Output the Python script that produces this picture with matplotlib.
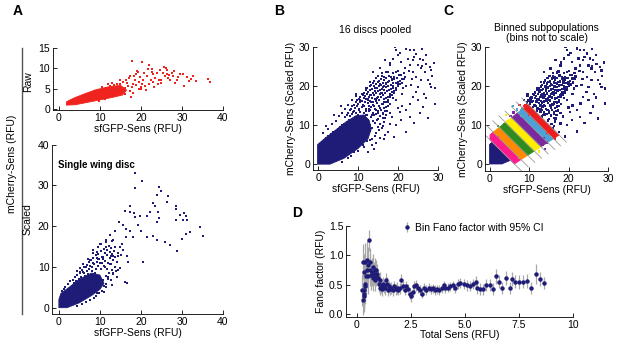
import matplotlib
matplotlib.use("Agg")
import matplotlib.pyplot as plt
from matplotlib.lines import Line2D
from matplotlib.patches import Polygon
import numpy as np

plt.rcParams['font.family'] = ['Liberation Sans', 'DejaVu Sans']
plt.rcParams['font.size'] = 7.5

W, H = 617, 344
NAVY = '#1f1c78'
RED = '#f0241e'

# ---------------- Panel A (raw) data ----------------
raw_core_x = [1.8, 4.0, 7.0, 10.0, 13.0, 15.5, 16.5, 15.0, 12.0, 9.0, 6.0, 4.0, 2.5, 1.8]
raw_core_y = [0.9, 1.0, 1.6, 2.2, 2.8, 3.4, 4.6, 5.8, 5.4, 4.7, 3.6, 2.8, 2.1, 1.7]
raw_x = [17.9, 20.2, 21.9, 22.6, 25.6, 26.3, 24.6, 30.2, 31.1, 32.2, 32.8, 33.5, 36.4, 36.8,
         30.6, 28.3, 27.1, 25.9, 21.4, 18.9, 18.5, 17.7, 18.1, 17.6, 16.5, 15.5, 14.2, 13.5,
         16.0, 17.0, 19.5, 20.5, 22.0, 23.5, 24.0, 26.8, 27.5, 29.0, 23.0, 21.0, 19.8, 15.0,
         14.0, 12.5, 11.5, 13.0, 16.2, 19.2, 22.8, 25.0, 28.8, 31.8, 20.0, 24.2, 26.0, 18.4,
         10.5, 12.0, 14.8, 8.5, 9.8, 11.2,
         14.5, 15.2, 16.0, 16.8, 17.3, 18.8, 19.4, 20.3, 21.2, 22.4, 23.2, 24.5, 25.3, 26.6,
         27.8, 29.6, 28.1, 19.0, 20.8, 21.8, 17.2, 16.3, 15.0, 13.8, 12.8, 18.0, 19.9, 22.9,
         24.8, 26.3]
raw_y = [11.8, 11.5, 10.9, 9.1, 10.2, 9.6, 9.6, 8.6, 7.9, 7.3, 8.1, 6.8, 7.3, 6.7,
         5.6, 6.3, 7.1, 8.2, 8.0, 8.6, 7.1, 5.3, 3.9, 2.9, 6.3, 6.6, 6.0, 5.8,
         5.2, 7.5, 6.5, 7.0, 6.0, 7.5, 8.8, 8.3, 8.9, 7.8, 6.6, 5.6, 7.8, 7.2,
         4.9, 5.6, 5.2, 6.3, 4.4, 9.0, 9.8, 7.2, 7.0, 6.8, 5.0, 6.0, 10.0, 8.1,
         5.3, 6.0, 4.6, 4.4, 1.9, 2.3,
         4.2, 5.1, 3.6, 5.6, 4.5, 5.8, 4.8, 6.1, 4.6, 7.1, 5.4, 7.0, 8.9, 7.6,
         8.2, 8.5, 9.4, 9.4, 8.9, 9.8, 8.0, 7.1, 6.2, 5.1, 4.8, 6.0, 5.4, 8.5,
         6.4, 8.6]

# ---------------- Panel A (scaled) data ----------------
sc_core_x = [0.0, 2.0, 5.0, 8.0, 10.0, 11.0, 10.0, 8.0, 5.0, 2.5, 0.5, 0.0]
sc_core_y = [0.0, 0.0, 1.2, 3.0, 4.5, 6.0, 8.0, 8.5, 7.0, 5.0, 3.5, 2.0]
sc_x = [18.5, 20.3, 18.5, 24.4, 25.0, 23.8, 26.7, 26.3, 23.0, 23.5, 28.5, 28.5, 30.5, 31.1,
        29.6, 30.2, 31.2, 28.5, 17.3, 18.3, 18.5, 17.3, 16.1, 19.8, 22.2, 24.1, 24.4, 21.4,
        24.0, 16.3, 15.7, 17.3, 18.1, 16.4, 19.3, 20.1, 21.4, 23.0, 23.8, 25.9, 27.1, 28.9,
        29.9, 31.1, 31.9, 34.4, 35.2, 14.7, 13.7, 12.4, 11.5, 13.3, 10.0, 11.6, 13.7, 15.3,
        15.7, 16.5, 14.5, 12.6, 10.8, 9.2, 8.4, 9.6, 7.6, 16.9, 20.6, 16.1, 16.5, 9.2,
        11.6, 12.8, 9.2, 6.7, 5.9, 11.2, 12.4, 13.7, 14.5, 13.3, 12.0, 10.8, 10.0, 5.1, 3.9,
        0.8, 1.5, 2.2, 1.2, 2.8, 3.4, 3.9, 4.5, 5.1, 5.6, 6.2, 6.8, 7.3, 7.9, 8.4, 9.0, 9.6,
        10.2, 10.9, 11.5, 12.2, 12.8, 13.4, 13.1, 12.5, 11.8, 11.2, 10.5, 9.8, 9.2, 8.6, 8.0,
        7.4, 6.8, 6.1, 5.4, 4.8, 4.2, 3.6, 10.6, 11.3, 12.0, 12.7, 13.3, 13.8, 13.6, 12.9,
        12.3, 11.7, 11.0, 10.3, 9.6, 9.0, 11.4, 12.0, 11.6, 10.9, 10.4, 12.6, 13.2, 9.8, 9.1,
        8.5, 7.5, 6.6, 5.6, 4.5, 10.5, 11.0, 8.0, 8.8, 7.2, 6.4, 12.4, 13.0, 10.0, 9.4, 8.2,
        7.6, 14.2, 14.5, 13.9, 11.8, 10.7, 6.0, 5.2, 4.4, 7.0, 8.3, 9.5, 10.2, 11.4, 12.9,
        14.8, 15.2, 14.9, 14.1, 13.0]
sc_y = [33.0, 31.1, 29.3, 29.7, 28.7, 27.7, 27.5, 25.9, 25.6, 25.0, 24.9, 24.1, 23.3, 22.4,
        22.8, 21.5, 21.5, 21.5, 25.0, 23.2, 22.2, 23.4, 23.7, 22.6, 23.4, 23.4, 22.0, 22.4,
        21.0, 19.3, 20.2, 18.9, 17.3, 17.3, 20.2, 18.9, 17.3, 17.7, 16.5, 16.1, 15.3, 13.9,
        16.9, 18.1, 18.5, 19.9, 17.7, 21.0, 18.9, 17.9, 16.7, 16.5, 15.7, 14.9, 14.9, 15.7,
        14.1, 12.8, 13.3, 12.8, 12.4, 13.7, 14.1, 12.0, 11.6, 11.2, 11.2, 6.3, 6.1, 3.5,
        5.1, 6.7, 4.7, 10.0, 8.8, 10.0, 10.8, 10.0, 9.2, 8.4, 7.6, 6.7, 5.9, 8.8, 7.6,
        4.2, 5.0, 5.8, 4.6, 6.5, 6.9, 7.6, 8.0, 8.6, 9.3, 9.9, 10.4, 11.1, 11.6, 12.3, 12.9, 13.2,
        13.8, 14.3, 14.9, 15.2, 14.6, 13.9, 12.8, 12.2, 12.9, 13.4, 12.5, 11.9, 11.2, 10.6, 10.1,
        9.5, 9.0, 8.4, 7.6, 7.0, 6.5, 6.0, 10.9, 11.5, 11.0, 10.6, 11.7, 12.4, 10.0, 9.2,
        8.5, 9.6, 10.2, 9.4, 10.2, 9.6, 7.8, 7.0, 5.9, 5.2, 6.6, 6.8, 8.2, 3.6, 2.9,
        2.4, 1.8, 1.3, 0.8, 0.4, 4.2, 3.9, 9.1, 8.4, 8.3, 7.7, 13.6, 13.2, 11.0, 12.2, 11.0,
        10.2, 11.3, 12.8, 9.0, 14.2, 11.9, 10.6, 9.8, 9.0, 12.0, 13.5, 14.8, 15.6, 16.2, 16.4,
        15.0, 13.0, 9.8, 7.5, 5.5]

# ---------------- Panel B / C data (16 discs pooled) ----------------
pool_core_x = [-0.1, 3.0, 6.5, 10.0, 12.5, 13.3, 12.8, 11.5, 9.5, 7.0, 4.0, 1.5, -0.1]
pool_core_y = [0.0, 0.0, 1.5, 4.0, 6.5, 9.0, 11.2, 12.6, 12.4, 10.8, 8.4, 6.4, 5.0]
pool_x = [19.2, 21.5, 22.1, 22.9, 23.9, 19.6, 20.0, 24.6, 25.4, 26.2, 27.1, 27.9, 28.3, 29.2,
          29.2, 27.5, 26.2, 25.0, 23.7, 22.1, 22.9, 20.4, 19.6, 17.9, 17.5, 15.8, 14.6, 17.1,
          18.3, 19.6, 20.8, 21.7, 22.9, 23.7, 24.6, 25.8, 26.7, 27.5, 28.3, 25.0, 23.3, 21.3,
          20.0, 18.8, 16.3, 15.8, 14.2, 12.9, 12.5, 13.3, 15.0, 16.7, 17.9, 19.6, 20.8, 22.1,
          17.9, 16.3, 13.8, 15.4, 17.9, 16.7, 18.8, 20.8, 22.5, 23.7, 25.0, 25.8,
          13.5, 14.8, 16.2, 17.5, 18.5, 12.0, 11.0, 10.5, 13.0, 14.5, 16.0, 21.0, 23.0, 24.5,
          26.5, 27.0, 28.5, 29.0, 26.0, 24.0, 19.0, 20.0, 18.5, 22.0, 17.0, 15.5, 13.8, 12.8,
          9.5, 16.5, 19.0, 24.0, 25.5, 21.0, 23.5, 26.0, 28.0, 27.0, 20.5, 18.0,
          0.4, 0.9, 1.5, 2.1, 2.6, 3.2, 14.2, 13.6, 3.8, 4.4, 13.0, 14.6, 15.3, 4.9, 5.6, 6.0,
          13.5, 14.9, 16.0, 6.5, 7.2, 13.0, 14.2, 15.6, 16.6, 7.8, 8.4, 12.6, 13.7, 15.0, 16.2,
          6.8, 8.0, 9.2, 10.0, 11.3, 12.2, 13.2, 14.4, 15.5, 16.9, 7.5, 8.7, 9.6, 10.6, 11.6,
          12.8, 13.8, 15.0, 16.2, 17.3, 8.2, 9.3, 10.2, 11.0, 12.1, 13.3, 14.2, 15.5, 16.6,
          17.6, 9.0, 10.1, 11.3, 12.4, 13.7, 14.8, 15.9, 17.0, 18.1, 9.8, 10.9, 11.9, 13.0,
          14.2, 15.3, 16.5, 17.6, 18.8, 10.6, 11.7, 12.8, 14.0, 15.1, 16.2, 17.4, 18.5, 11.5,
          12.6, 13.8, 15.0, 16.1, 17.2, 18.4, 19.6, 12.3, 13.5, 14.7, 15.9, 17.1, 18.3, 19.5,
          13.2, 14.5, 15.7, 16.9, 18.2, 19.4, 20.6, 14.0, 15.3, 16.6, 17.8, 19.1, 20.4, 21.6,
          15.1, 16.4, 17.7, 19.0, 20.3, 21.7, 16.0, 17.4, 18.8, 20.1, 21.5, 22.8, 10.5, 11.2,
          12.3, 13.0, 9.0, 10.0, 7.5, 8.3, 6.0, 11.6,
          7.3, 8.6, 9.9, 11.9, 14.0, 16.3, 8.0, 9.1, 10.3, 11.9, 13.1, 14.6, 16.8,
          8.6, 9.7, 11.6, 12.8, 14.0, 15.2, 17.1, 9.4, 10.6, 11.8, 13.2, 14.4, 16.4, 17.5,
          10.3, 11.4, 12.4, 13.6, 14.7, 15.8, 17.0, 18.1, 11.2, 12.2, 13.3, 14.5, 15.6, 16.8,
          18.0, 19.1, 12.0, 13.1, 14.3, 15.5, 16.6, 17.8, 19.0, 12.9, 14.1, 15.3, 16.4, 17.6,
          18.8, 20.1, 13.8, 14.9, 16.2, 17.4, 18.7, 19.9, 21.1, 14.6, 15.8, 17.1, 18.4, 19.7,
          21.0, 2.5, 3.5, 4.5, 5.2, 6.0, 6.8, 7.5, 8.6, 9.5, 1.2, 2.0, 4.0, 5.8, 13.5, 14.5,
          15.5, 16.8, 12.5, 14.0]
pool_y = [30.0, 30.2, 29.6, 29.3, 29.2, 29.2, 27.9, 28.3, 27.0, 26.6, 25.7, 24.9, 24.0, 19.4,
          15.5, 11.7, 14.7, 16.4, 17.2, 13.8, 12.1, 13.4, 16.4, 17.6, 15.9, 13.8, 16.4, 20.6,
          22.3, 23.6, 22.8, 24.5, 25.3, 23.6, 22.3, 21.5, 23.6, 21.5, 19.8, 19.8, 20.2, 19.4,
          20.6, 19.4, 19.8, 18.1, 19.4, 17.6, 16.4, 14.7, 13.0, 11.7, 10.4, 10.0, 11.3, 8.3,
          13.0, 15.5, 23.6, 24.5, 25.3, 26.6, 27.0, 26.2, 27.0, 26.6, 25.3, 24.5,
          12.5, 11.2, 9.8, 8.2, 12.2, 19.5, 18.0, 16.5, 21.0, 22.0, 22.5, 15.0, 15.5, 18.5,
          18.0, 17.0, 22.5, 26.0, 29.5, 27.5, 18.5, 14.5, 21.5, 20.0, 23.5, 20.5, 16.0, 14.0,
          17.5, 6.5, 7.0, 10.5, 13.0, 18.0, 21.8, 25.2, 20.5, 28.0, 28.5, 26.0,
          5.2, 5.6, 6.3, 6.8, 7.3, 7.6, 7.2, 6.5, 8.2, 8.6, 8.4, 8.0, 8.8, 9.1, 9.4, 9.9,
          9.3, 9.6, 9.2, 10.2, 10.8, 10.1, 10.5, 10.3, 10.9, 11.3, 11.6, 11.4, 11.0, 11.5, 11.8,
          12.0, 12.4, 12.1, 12.3, 12.0, 12.6, 12.2, 12.8, 12.4, 12.5, 13.1, 13.3, 13.0, 13.4, 13.1,
          13.5, 13.2, 13.6, 13.2, 13.7, 14.2, 14.4, 14.0, 14.6, 14.2, 14.6, 14.1, 14.5, 14.3,
          14.8, 15.2, 15.5, 15.1, 15.6, 15.2, 15.7, 15.3, 15.8, 15.4, 16.3, 16.1, 16.6, 16.2,
          16.7, 16.3, 16.8, 16.4, 16.9, 17.1, 17.5, 17.2, 17.6, 17.3, 17.7, 17.2, 17.8, 18.3,
          18.6, 18.2, 18.7, 18.3, 18.8, 18.4, 18.9, 19.4, 19.2, 19.6, 19.3, 19.7, 19.2, 19.6,
          20.3, 20.6, 20.2, 20.7, 20.3, 20.8, 20.4, 21.4, 21.2, 21.6, 21.2, 21.7, 21.3, 21.8,
          22.5, 22.2, 22.7, 22.3, 22.8, 22.4, 23.4, 23.7, 23.3, 23.8, 23.3, 23.9, 5.5, 5.0,
          5.8, 6.1, 3.0, 3.4, 1.5, 2.1, 0.6, 4.3,
          12.6, 12.8, 12.7, 12.5, 12.6, 12.9, 13.8, 13.6, 13.9, 13.7, 13.9, 13.8, 13.6,
          14.8, 14.9, 14.8, 15.0, 14.8, 15.0, 14.7, 15.8, 15.9, 16.0, 15.8, 16.1, 15.9, 16.1,
          16.8, 16.9, 16.7, 17.0, 16.9, 17.1, 16.9, 17.2, 17.8, 18.0, 17.8, 18.1, 17.9, 18.2,
          17.9, 18.3, 18.9, 19.0, 18.8, 19.1, 18.9, 19.0, 18.8, 19.9, 19.9, 20.0, 19.9, 20.1,
          19.9, 20.0, 20.9, 21.0, 20.9, 21.0, 20.9, 21.1, 20.9, 22.0, 21.9, 22.1, 21.9, 22.1,
          21.9, 9.0, 10.2, 11.0, 12.3, 13.2, 14.0, 15.2, 16.4, 18.0, 8.0, 9.8, 12.5, 14.8, 4.8,
          5.5, 6.8, 7.5, 3.2, 3.8]

# bins along x + y (panel C)
bin_edges = [6.2, 9.0, 11.8, 14.6, 17.4, 20.2, 22.6, 25.0]
bin_colors = ['#ff1b8d', '#ff8a00', '#2e8b1e', '#ffee00', '#7a2a9e', '#4aa3d6', '#ee1c1c']
ribbon_upper = (0.8, 7.5)    # slope, intercept of upper cloud edge
ribbon_lower = (0.65, -4.0)  # slope, intercept of lower cloud edge

# ---------------- Panel D data ----------------
fano_x = [0.26, 0.28, 0.29, 0.31, 0.32, 0.34, 0.35, 0.37, 0.39, 0.40, 0.43, 0.45, 0.48, 0.51,
          0.54, 0.57, 0.60, 0.63, 0.66, 0.69, 0.73, 0.76, 0.79, 0.82, 0.85, 0.88, 0.91, 0.94,
          0.97, 1.02, 1.05, 1.08, 1.11, 1.16, 1.20, 1.25, 1.30, 1.34, 1.39, 1.44, 1.48, 1.54,
          1.60, 1.67, 1.73, 1.79, 1.85, 1.91, 1.99, 2.05, 2.13, 2.21, 2.28, 2.35, 2.44, 2.50,
          2.58, 2.65, 2.75, 2.84, 2.93, 3.02, 3.13, 3.21, 3.32, 3.43, 3.52, 3.60, 3.70, 3.81,
          3.92, 4.01, 4.10, 4.21, 4.32, 4.44, 4.55, 4.66, 4.78, 4.94, 5.09, 5.22, 5.37, 5.51,
          5.56, 5.71, 5.86, 5.99, 6.14, 6.30, 6.45, 6.59, 6.73, 6.91, 7.07, 7.18, 7.33, 7.52,
          7.69, 7.87, 8.07, 8.27, 8.46, 8.64]
fano_y = [0.41, 0.24, 0.89, 0.72, 0.30, 0.35, 0.41, 0.47, 0.52, 0.89, 0.64, 0.75, 0.92, 0.64,
          0.84, 1.26, 0.75, 0.88, 0.66, 0.72, 0.80, 0.61, 0.69, 0.75, 0.58, 0.65, 0.75, 0.69,
          0.62, 0.52, 0.45, 0.58, 0.48, 0.42, 0.51, 0.47, 0.44, 0.58, 0.52, 0.41, 0.47, 0.43,
          0.45, 0.41, 0.47, 0.42, 0.45, 0.41, 0.44, 0.58, 0.48, 0.41, 0.47, 0.42, 0.35, 0.30,
          0.38, 0.47, 0.49, 0.44, 0.41, 0.35, 0.45, 0.41, 0.45, 0.42, 0.44, 0.41, 0.42, 0.41,
          0.44, 0.49, 0.44, 0.45, 0.47, 0.49, 0.44, 0.51, 0.53, 0.51, 0.49, 0.48, 0.51, 0.55,
          0.44, 0.43, 0.42, 0.49, 0.49, 0.43, 0.64, 0.55, 0.45, 0.61, 0.45, 0.59, 0.55, 0.55,
          0.55, 0.57, 0.44, 0.68, 0.59, 0.53]
fano_err = [0.28, 0.25, 0.30, 0.30, 0.27, 0.28, 0.30, 0.30, 0.30, 0.32, 0.30, 0.30, 0.32, 0.30,
            0.30, 0.18, 0.28, 0.25, 0.25, 0.24, 0.22, 0.22, 0.20, 0.20, 0.18, 0.18, 0.17, 0.16,
            0.15, 0.14, 0.13, 0.13, 0.12, 0.12, 0.12, 0.11, 0.11, 0.12, 0.11, 0.10, 0.10, 0.10,
            0.10, 0.10, 0.10, 0.10, 0.10, 0.09, 0.09, 0.10, 0.09, 0.09, 0.09, 0.09, 0.09, 0.09,
            0.09, 0.09, 0.09, 0.08, 0.08, 0.08, 0.08, 0.08, 0.08, 0.08, 0.08, 0.08, 0.08, 0.08,
            0.08, 0.08, 0.08, 0.08, 0.08, 0.08, 0.08, 0.09, 0.09, 0.09, 0.09, 0.09, 0.09, 0.10,
            0.10, 0.10, 0.10, 0.10, 0.10, 0.10, 0.12, 0.11, 0.10, 0.12, 0.10, 0.12, 0.11, 0.12,
            0.11, 0.12, 0.10, 0.17, 0.12, 0.10]


def clip_half(poly, a, b, c):
    """keep part of polygon where a*x + b*y <= c"""
    out = []
    n = len(poly)
    for i in range(n):
        P = poly[i]
        Q = poly[(i + 1) % n]
        fp = a * P[0] + b * P[1] - c
        fq = a * Q[0] + b * Q[1] - c
        if fp <= 0:
            out.append(P)
        if (fp <= 0) != (fq <= 0):
            t = fp / (fp - fq)
            out.append((P[0] + t * (Q[0] - P[0]), P[1] + t * (Q[1] - P[1])))
    return out


def px_axes(l, t, r, b):
    return fig.add_axes([l / W, 1 - b / H, (r - l) / W, (b - t) / H])


def style(ax):
    for s in ['top', 'right']:
        ax.spines[s].set_visible(False)
    for s in ['left', 'bottom']:
        ax.spines[s].set_linewidth(0.6)
    ax.tick_params(direction='in', length=3, width=0.6, labelsize=7.5, pad=2)


def ftext(px, py, s, **kw):
    fig.text(px / W, 1 - py / H, s, **kw)


fig = plt.figure(figsize=(W / 100, H / 100), dpi=100)

# ---- A raw
axr = px_axes(53, 48, 223, 110)
style(axr)
axr.add_patch(Polygon(np.column_stack([raw_core_x, raw_core_y]), closed=True,
                      facecolor=RED, edgecolor=RED, lw=0.6))
axr.scatter(raw_x, raw_y, s=2.5, c=RED, marker='s', linewidths=0)
axr.set_xlim(-1.46, 40)
axr.set_ylim(-0.3, 15)
axr.set_xticks([0, 10, 20, 30, 40])
axr.set_yticks([0, 5, 10, 15])
axr.set_xlabel('sfGFP-Sens (RFU)', fontsize=7.5, labelpad=1)

# ---- A scaled
axs = px_axes(52.3, 144.7, 223, 314)
style(axs)
axs.add_patch(Polygon(np.column_stack([sc_core_x, sc_core_y]), closed=True,
                      facecolor=NAVY, edgecolor=NAVY, lw=0.6))
axs.scatter(sc_x, sc_y, s=3, c=NAVY, marker='s', linewidths=0)
axs.set_xlim(-1.6, 40)
axs.set_ylim(-1.55, 40)
axs.set_xticks([0, 10, 20, 30, 40])
axs.set_yticks([0, 10, 20, 30, 40])
axs.set_xlabel('sfGFP-Sens (RFU)', fontsize=7.5, labelpad=1)
axs.text(0.035, 0.88, 'Single wing disc', transform=axs.transAxes, fontsize=7,
         fontweight='bold', va='center', ha='left')

# side labels for A
fig.add_artist(Line2D([22 / W, 22 / W], [1 - 48 / H, 1 - 314 / H], color='#555555', lw=1.0))
ftext(12, 164, 'mCherry-Sens (RFU)', rotation=90, ha='center', va='center', fontsize=7.5)
ftext(28, 82, 'Raw', rotation=90, ha='center', va='center', fontsize=7.5)
ftext(28, 219, 'Scaled', rotation=90, ha='center', va='center', fontsize=7.5)

# ---- B
axb = px_axes(313, 47, 438, 170)
style(axb)
axb.add_patch(Polygon(np.column_stack([pool_core_x, pool_core_y]), closed=True,
                      facecolor=NAVY, edgecolor=NAVY, lw=0.6))
axb.scatter(pool_x, pool_y, s=3, c=NAVY, marker='s', linewidths=0)
axb.set_xlim(-1.25, 30)
axb.set_ylim(-1.5, 30)
axb.set_xticks([0, 10, 20, 30])
axb.set_yticks([0, 10, 20, 30])
axb.set_xlabel('sfGFP-Sens (RFU)', fontsize=7.5, labelpad=1)
axb.set_ylabel('mCherry-Sens (Scaled RFU)', fontsize=7.5, labelpad=2)
axb.set_title('16 discs pooled', fontsize=7.5, pad=10)

# ---- C
axc = px_axes(485, 47, 608, 171)
style(axc)
core_poly = list(zip(pool_core_x, pool_core_y))
core_lo = clip_half(core_poly, 1, 1, bin_edges[0])
axc.add_patch(Polygon(core_lo, closed=True, facecolor=NAVY, edgecolor=NAVY, lw=0.6))
su, iu = ribbon_upper
sl, il = ribbon_lower
ribbon = [(0, 0), (0, iu), (30, su * 30 + iu), (30, sl * 30 + il), (-il / sl, 0)]
for i, col in enumerate(bin_colors):
    band = clip_half(ribbon, 1, 1, bin_edges[i + 1])
    band = clip_half(band, -1, -1, -bin_edges[i])
    axc.add_patch(Polygon(band, closed=True, facecolor=col, edgecolor=col, lw=0.6))
px_ = np.array(pool_x)
py_ = np.array(pool_y)
idx = np.digitize(px_ + py_, bin_edges)
cols = [NAVY if (k == 0 or k == len(bin_edges)) else bin_colors[k - 1] for k in idx]
axc.scatter(px_, py_, s=3, c=cols, marker='s', linewidths=0)
for e in bin_edges:
    xt = (e - iu - 3.0) / (1 + su)
    xb = (e - il + 3.0) / (1 + sl)
    axc.plot([xt, xb], [e - xt, e - xb], color='#9a9a9a', lw=0.6)
axc.set_xlim(-1.27, 30)
axc.set_ylim(-1.8, 30)
axc.set_xticks([0, 10, 20, 30])
axc.set_yticks([0, 10, 20, 30])
axc.set_xlabel('sfGFP-Sens (RFU)', fontsize=7.5, labelpad=1)
axc.set_ylabel('mCherry\u2212Sens (Scaled RFU)', fontsize=7.5, labelpad=2)
axc.set_title('Binned subpopulations\n(bins not to scale)', fontsize=7.5, pad=4,
              linespacing=1.0)

# ---- D
axd = px_axes(346, 226, 573, 317)
style(axd)
axd.errorbar(fano_x, fano_y, yerr=fano_err, fmt='o', ms=2.2, color=NAVY, mec=NAVY,
             ecolor='#a8a8a8', elinewidth=0.9, capsize=0,
             label='Bin Fano factor with 95% CI')
axd.set_xlim(-0.5, 10)
axd.set_ylim(-0.05, 1.5)
axd.set_xticks([0, 2.5, 5, 7.5, 10])
axd.set_xticklabels(['0', '2.5', '5.0', '7.5', '10'])
axd.set_yticks([0, 0.5, 1.0, 1.5])
axd.set_yticklabels(['0.0', '0.5', '1.0', '1.5'])
axd.set_xlabel('Total Sens (RFU)', fontsize=7.5, labelpad=0)
axd.set_ylabel('Fano factor (RFU)', fontsize=7.5, labelpad=2)
axd.legend(loc='upper left', bbox_to_anchor=(0.23, 1.08), frameon=False, fontsize=7.5,
           handlelength=0.8, handletextpad=0.4, borderaxespad=0)

# panel letters
for lab, (x, y) in {'A': (18, 11), 'B': (279, 11), 'C': (448, 11), 'D': (297, 213)}.items():
    ftext(x, y, lab, fontsize=10, fontweight='bold', ha='center', va='center')

fig.savefig('out.png', dpi=100)
